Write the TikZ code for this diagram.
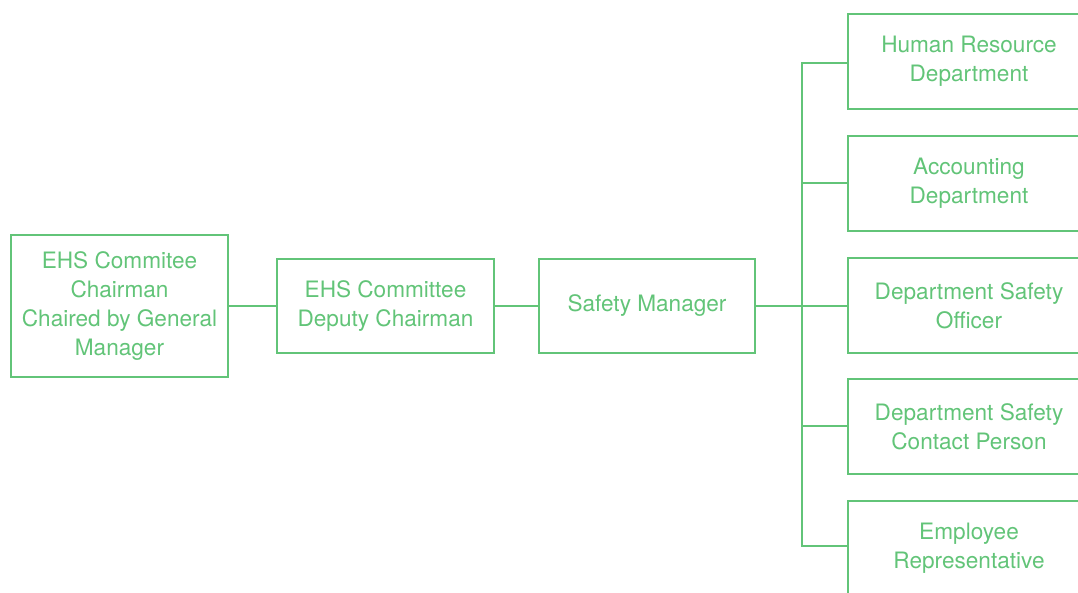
\documentclass[tikz,border=0pt]{standalone}
\usepackage{fontspec}
\setmainfont{TeX Gyre Heros}
\definecolor{ehsgreen}{RGB}{98,196,120}
\begin{document}
\begin{tikzpicture}[x=1pt,y=-1pt,
  box/.style={draw=ehsgreen,line width=1.4pt,text=ehsgreen,align=center,
    inner sep=0pt,outer sep=0pt,font=\fontsize{22.6}{29}\selectfont},
  link/.style={draw=ehsgreen,line width=1.4pt}]
\useasboundingbox (0,0) rectangle (1078,592);
\clip (0,0) rectangle (1078,592);
\node[box,minimum width=217pt,minimum height=142pt] (chair) at (119.5,306) {EHS Commitee\\Chairman\\Chaired by General\\Manager};
\node[box,minimum width=217pt,minimum height=94pt] (deputy) at (385.5,306) {EHS Committee\\Deputy Chairman};
\node[box,minimum width=216pt,minimum height=94pt] (safety) at (647,306) {Safety Manager};
\node[box,minimum width=242pt,minimum height=95pt] (hr) at (969,61.5) {Human Resource\\Department};
\node[box,minimum width=242pt,minimum height=95pt] (acc) at (969,183.5) {Accounting\\Department};
\node[box,minimum width=242pt,minimum height=95pt] (dso) at (969,305.5) {Department Safety\\Officer};
\node[box,minimum width=242pt,minimum height=95pt] (dscp) at (969,426.5) {Department Safety\\Contact Person};
\node[box,minimum width=242pt,minimum height=95pt] (emp) at (969,548.5) {Employee\\Representative};
\coordinate (bus) at (802,306);
\coordinate (btop) at (802,63);
\coordinate (bbot) at (802,546);
\draw[link] (chair.east) -- (deputy.west);
\draw[link] (deputy.east) -- (safety.west);
\draw[link] (safety.east) -- (bus);
\draw[link] (hr.west |- btop) -- (btop) -- (bbot) -- (emp.west |- bbot);
\draw[link] (802,183) -- (acc.west |- 0,183);
\draw[link] (bus) -- (dso.west |- bus);
\draw[link] (802,426) -- (dscp.west |- 0,426);
\end{tikzpicture}
\end{document}
